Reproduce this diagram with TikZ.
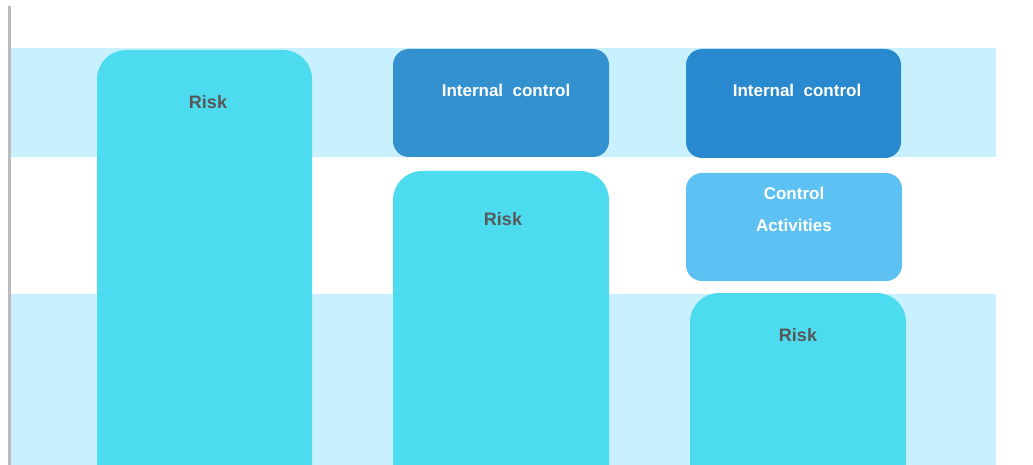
\documentclass[tikz,border=0pt]{standalone}
\usepackage{fontspec}
\setmainfont{Liberation Sans}
\definecolor{bandblue}{RGB}{201,240,254}
\definecolor{riskcyan}{RGB}{77,220,239}
\definecolor{icblueA}{RGB}{52,145,208}
\definecolor{icblueB}{RGB}{40,137,206}
\definecolor{cablue}{RGB}{94,193,243}
\definecolor{axisgray}{RGB}{187,187,187}
\definecolor{labelgray}{RGB}{88,88,88}
\tikzset{
  block/.style={inner sep=0pt, outer sep=0pt, anchor=north},
  riskbar/.style={block, fill=riskcyan, rounded corners=29pt},
  ctrlbox/.style={block, rounded corners=16pt},
  risklabel/.style={inner sep=0pt, text=labelgray, font=\bfseries\fontsize{18}{20}\selectfont},
  ctrllabel/.style={inner sep=0pt, text=white, font=\bfseries\fontsize{17}{19}\selectfont}
}
\begin{document}
\begin{tikzpicture}[x=1pt,y=-1pt]
\useasboundingbox (0,0) rectangle (1033,465);
\clip (0,0) rectangle (1033,465);
% horizontal bands
\fill[bandblue] (11,48) rectangle (996,157);
\fill[bandblue] (11,294) rectangle (996,470);
% left rule
\fill[axisgray] (8,6) rectangle (11,470);
% column 1
\node[riskbar, minimum width=215pt, minimum height=450pt] (risk1) at (204.5,50) {};
\node[risklabel] (risk1text) at (208,102) {Risk};
% column 2
\node[ctrlbox, fill=icblueA, minimum width=216pt, minimum height=108pt] (ic1) at (501,49) {};
\node[ctrllabel] (ic1text) at (506,90) {Internal\ \ control};
\node[riskbar, minimum width=216pt, minimum height=330pt] (risk2) at (501,171) {};
\node[risklabel] (risk2text) at (503,219) {Risk};
% column 3
\node[ctrlbox, fill=icblueB, minimum width=215pt, minimum height=109pt] (ic2) at (793.5,49) {};
\node[ctrllabel] (ic2text) at (797,90) {Internal\ \ control};
\node[ctrlbox, fill=cablue, minimum width=216pt, minimum height=108pt] (ca) at (794,173) {};
\node[ctrllabel] (catext1) at (794,193) {Control};
\node[ctrllabel] (catext2) at (794,225) {Activities};
\node[riskbar, minimum width=216pt, minimum height=200pt] (risk3) at (798,293) {};
\node[risklabel] (risk3text) at (798,335.5) {Risk};
\end{tikzpicture}
\end{document}
